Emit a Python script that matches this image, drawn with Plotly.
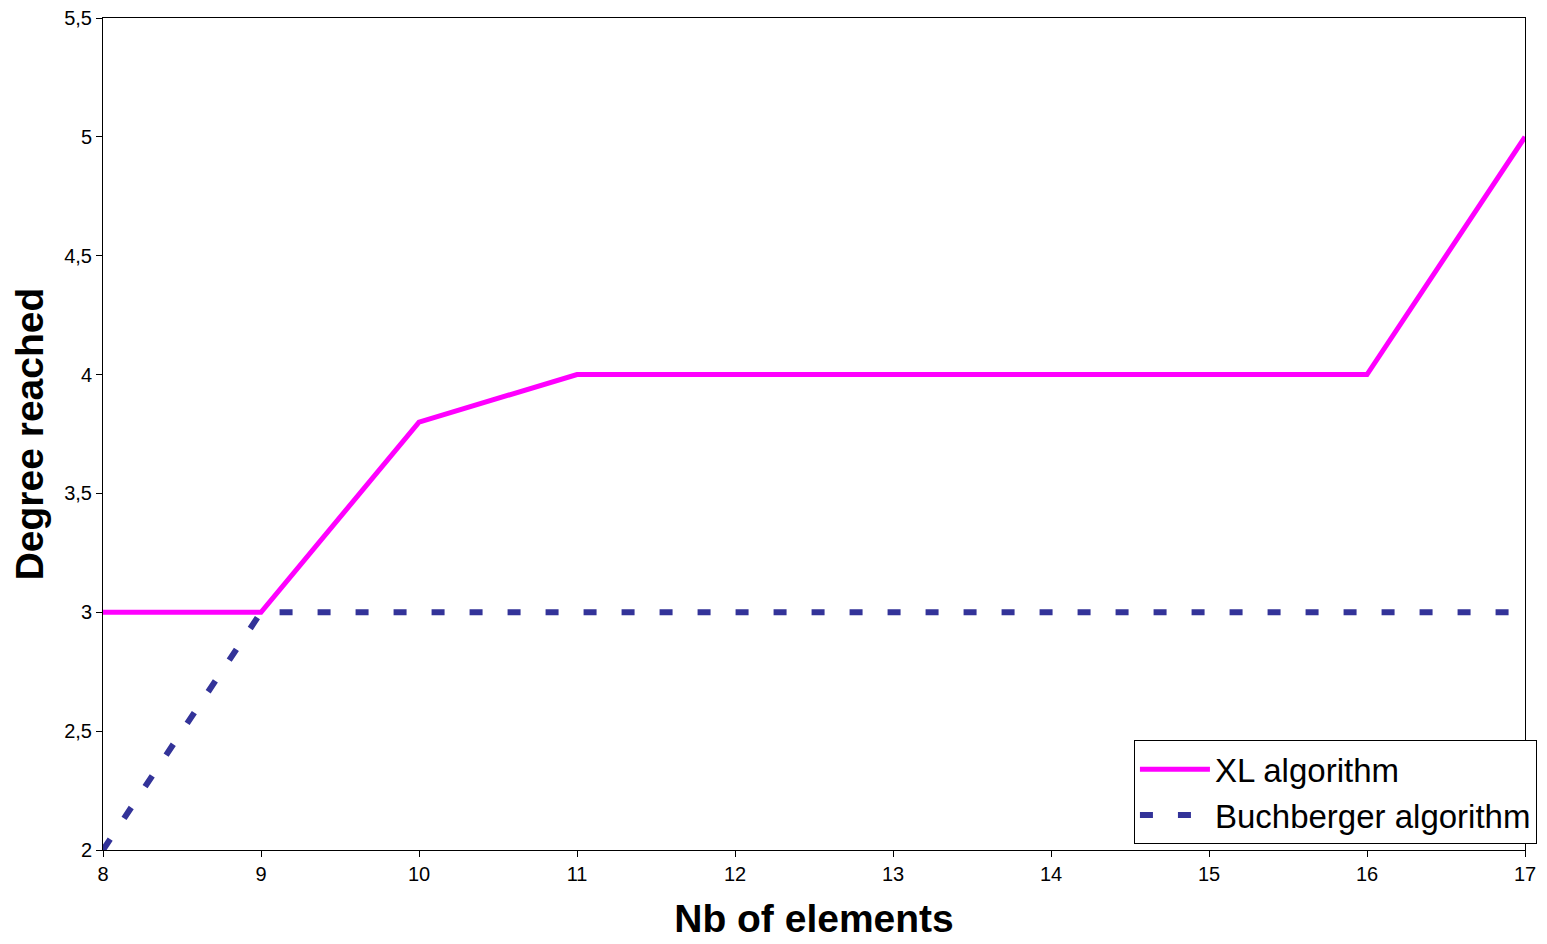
import plotly.graph_objects as go

# Number of elements in the system
nb_elements = [8, 9, 10, 11, 12, 13, 14, 15, 16, 17]
# Degree reached by each algorithm
xl_degree = [3, 3, 3.8, 4, 4, 4, 4, 4, 4, 5]
buchberger_degree = [2, 3, 3, 3, 3, 3, 3, 3, 3, 3]

font_family = "Liberation Sans, Arial, sans-serif"

fig = go.Figure()
fig.add_trace(go.Scatter(
    x=nb_elements, y=xl_degree, mode="lines", name="XL algorithm",
    line=dict(color="#FF00FF", width=5),
))
fig.add_trace(go.Scatter(
    x=nb_elements, y=buchberger_degree, mode="lines", name="Buchberger algorithm",
    line=dict(color="#333399", width=6, dash="13px,25px"),
))

axis_common = dict(
    showgrid=False, zeroline=False, showline=True, linecolor="black", linewidth=1,
    mirror=True, ticks="outside", ticklen=6, tickcolor="black",
    tickfont=dict(family=font_family, size=20, color="black"),
)

fig.update_layout(
    width=1547, height=944,
    margin=dict(l=103, r=22, t=18, b=94, autoexpand=False),
    plot_bgcolor="white", paper_bgcolor="white",
    separators=",.",
    font=dict(family=font_family, color="black"),
    xaxis=dict(
        range=[8, 17], tickvals=nb_elements,
        title=dict(text="<b>Nb of elements</b>", font=dict(size=39), standoff=20),
        **axis_common,
    ),
    yaxis=dict(
        range=[2, 5.5], tickvals=[2, 2.5, 3, 3.5, 4, 4.5, 5, 5.5],
        title=dict(text="<b>Degree reached</b>", font=dict(size=39), standoff=8),
        **axis_common,
    ),
    legend=dict(
        x=1.0084, y=0.007, xanchor="right", yanchor="bottom",
        bgcolor="white", bordercolor="black", borderwidth=1,
        font=dict(size=33, color="black"), itemwidth=70,
        tracegroupgap=0,
    ),
    showlegend=True,
)

fig.write_html("out.html")
